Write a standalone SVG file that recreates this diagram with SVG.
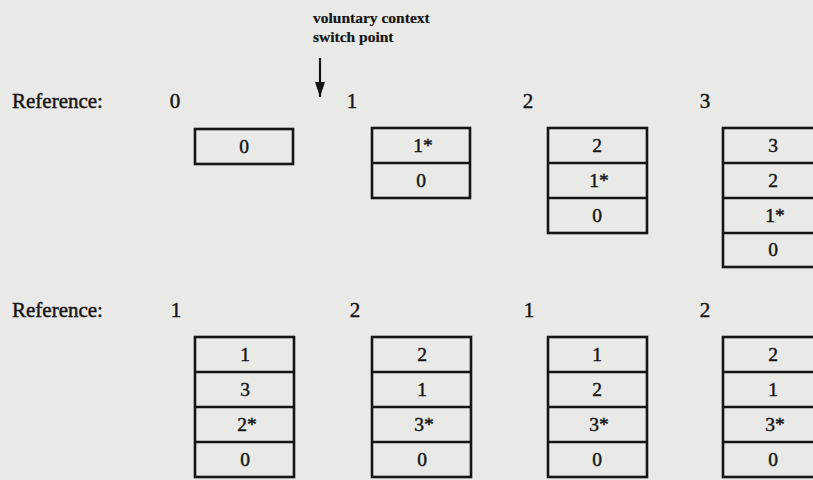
<svg xmlns="http://www.w3.org/2000/svg" width="813" height="480" viewBox="0 0 813 480">
<style>
.bg{fill:#e9e9e7}
.box{fill:none;stroke:#151515;stroke-width:2.6}
.div{stroke:#151515;stroke-width:2.6}
.t{font-family:"Liberation Serif","Times New Roman",serif;fill:#151515;stroke:#151515;stroke-width:0.45}
.lbl{font-size:21px}
.num{font-size:19.5px;text-anchor:middle}
.cap{font-size:15.5px;font-weight:bold;stroke-width:0.2}
</style>
<defs>
<marker id="ah" viewBox="0 0 15 10" refX="15" refY="5" markerWidth="15" markerHeight="10" markerUnits="userSpaceOnUse" orient="auto">
<path d="M0,0 L15,5 L0,10 Z" fill="#151515"/>
</marker>
</defs>
<rect class="bg" x="0" y="0" width="813" height="480"/>

<g id="caption">
<text class="t cap" x="313" y="23">voluntary context</text>
<text class="t cap" x="313" y="42">switch point</text>
</g>
<g id="connectors">
<line x1="320" y1="58" x2="320" y2="97" stroke="#151515" stroke-width="2.2" marker-end="url(#ah)"/>
</g>

<g id="labels-row1">
<text class="t lbl" x="12" y="108">Reference:</text>
<text class="t lbl" x="175" y="108" text-anchor="middle">0</text>
<text class="t lbl" x="352" y="108" text-anchor="middle">1</text>
<text class="t lbl" x="528" y="108" text-anchor="middle">2</text>
<text class="t lbl" x="705" y="108" text-anchor="middle">3</text>
</g>

<g id="labels-row2">
<text class="t lbl" x="12" y="317">Reference:</text>
<text class="t lbl" x="176" y="317" text-anchor="middle">1</text>
<text class="t lbl" x="355" y="317" text-anchor="middle">2</text>
<text class="t lbl" x="529" y="317" text-anchor="middle">1</text>
<text class="t lbl" x="705" y="317" text-anchor="middle">2</text>
</g>

<g id="stack-r1-0">
<rect class="box" x="195" y="129" width="98" height="35"/>
<text class="t num" x="244" y="153">0</text>
</g>

<g id="stack-r1-1">
<rect class="box" x="372" y="128" width="98" height="70"/>
<line class="div" x1="372" y1="163" x2="470" y2="163"/>
<text class="t num" x="423" y="152">1*</text>
<text class="t num" x="421" y="187">0</text>
</g>

<g id="stack-r1-2">
<rect class="box" x="548" y="128" width="99" height="105"/>
<line class="div" x1="548" y1="163" x2="647" y2="163"/>
<line class="div" x1="548" y1="198" x2="647" y2="198"/>
<text class="t num" x="597" y="152">2</text>
<text class="t num" x="599" y="187">1*</text>
<text class="t num" x="597" y="222">0</text>
</g>

<g id="stack-r1-3">
<rect class="box" x="723" y="128" width="98" height="139"/>
<line class="div" x1="723" y1="163" x2="821" y2="163"/>
<line class="div" x1="723" y1="198" x2="821" y2="198"/>
<line class="div" x1="723" y1="233" x2="821" y2="233"/>
<text class="t num" x="773" y="152">3</text>
<text class="t num" x="773" y="187">2</text>
<text class="t num" x="775" y="222">1*</text>
<text class="t num" x="773" y="256">0</text>
</g>

<g id="stack-r2-0">
<rect class="box" x="195" y="337" width="99" height="140"/>
<line class="div" x1="195" y1="372" x2="294" y2="372"/>
<line class="div" x1="195" y1="407" x2="294" y2="407"/>
<line class="div" x1="195" y1="442" x2="294" y2="442"/>
<text class="t num" x="245" y="361">1</text>
<text class="t num" x="245" y="396">3</text>
<text class="t num" x="247" y="431">2*</text>
<text class="t num" x="245" y="466">0</text>
</g>

<g id="stack-r2-1">
<rect class="box" x="372" y="337" width="99" height="140"/>
<line class="div" x1="372" y1="372" x2="471" y2="372"/>
<line class="div" x1="372" y1="407" x2="471" y2="407"/>
<line class="div" x1="372" y1="442" x2="471" y2="442"/>
<text class="t num" x="422" y="361">2</text>
<text class="t num" x="422" y="396">1</text>
<text class="t num" x="424" y="431">3*</text>
<text class="t num" x="422" y="466">0</text>
</g>

<g id="stack-r2-2">
<rect class="box" x="548" y="337" width="99" height="140"/>
<line class="div" x1="548" y1="372" x2="647" y2="372"/>
<line class="div" x1="548" y1="407" x2="647" y2="407"/>
<line class="div" x1="548" y1="442" x2="647" y2="442"/>
<text class="t num" x="597" y="361">1</text>
<text class="t num" x="597" y="396">2</text>
<text class="t num" x="599" y="431">3*</text>
<text class="t num" x="597" y="466">0</text>
</g>

<g id="stack-r2-3">
<rect class="box" x="723" y="337" width="98" height="140"/>
<line class="div" x1="723" y1="372" x2="821" y2="372"/>
<line class="div" x1="723" y1="407" x2="821" y2="407"/>
<line class="div" x1="723" y1="442" x2="821" y2="442"/>
<text class="t num" x="773" y="361">2</text>
<text class="t num" x="773" y="396">1</text>
<text class="t num" x="775" y="431">3*</text>
<text class="t num" x="773" y="466">0</text>
</g>
</svg>
